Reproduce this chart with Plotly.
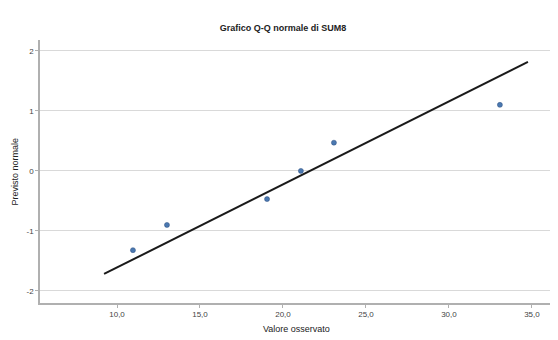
import plotly.graph_objects as go

# Observed values (x) and expected normal values (y)
observed = [10.96, 13.01, 19.04, 21.08, 23.07, 33.07]
expected = [-1.32, -0.90, -0.47, 0.00, 0.47, 1.10]

# Reference normal line parameters
line_mean = 21.63
line_sd = 7.23
line_x = [9.22, 34.76]
line_y = [(v - line_mean) / line_sd for v in line_x]

x_ticks = [10, 15, 20, 25, 30, 35]
x_tick_labels = ["10,0", "15,0", "20,0", "25,0", "30,0", "35,0"]
y_ticks = [-2, -1, 0, 1, 2]
y_tick_labels = ["-2", "-1", "0", "1", "2"]

fig = go.Figure()
fig.add_trace(go.Scatter(x=line_x, y=line_y, mode="lines",
                         line=dict(color="#1a1a1a", width=2), showlegend=False))
fig.add_trace(go.Scatter(x=observed, y=expected, mode="markers",
                         marker=dict(color="#4a78b0", size=5,
                                     line=dict(color="#2d4f80", width=0.5)),
                         showlegend=False))

fig.update_layout(
    width=550, height=332,
    margin=dict(l=32, r=5, t=32, b=37, autoexpand=False),
    paper_bgcolor="white", plot_bgcolor="white",
    font=dict(family="Liberation Sans, Arial, sans-serif", size=8, color="#444"),
    title=dict(text="<b>Grafico Q-Q normale di SUM8</b>", x=0.5, xanchor="center",
               y=0.94, yanchor="middle", font=dict(size=9, color="#222")),
    annotations=[
        dict(text="Valore osservato", xref="paper", yref="paper", x=0.5, y=0,
             yshift=-26, xanchor="center", yanchor="middle", showarrow=False,
             font=dict(size=9, color="#222")),
        dict(text="Previsto normale", xref="paper", yref="paper", x=0, y=0.5,
             xshift=-26, textangle=-90, xanchor="center", yanchor="middle",
             showarrow=False, font=dict(size=9, color="#222")),
    ],
)
fig.update_xaxes(range=[5.36, 36.27], tickvals=x_ticks, ticktext=x_tick_labels,
                 showgrid=False, showline=True, linecolor="#b0b0b0", linewidth=1.5,
                 ticks="outside", ticklen=3, tickcolor="#b0b0b0", zeroline=False,
                 automargin=False)
fig.update_yaxes(range=[-2.2, 2.18], tickvals=y_ticks, ticktext=y_tick_labels,
                 showgrid=True, gridcolor="#d9d9d9", gridwidth=1,
                 showline=True, linecolor="#b0b0b0", linewidth=1.5,
                 ticks="outside", ticklen=3, tickcolor="#b0b0b0", zeroline=False,
                 automargin=False)

fig.write_html("out.html")
